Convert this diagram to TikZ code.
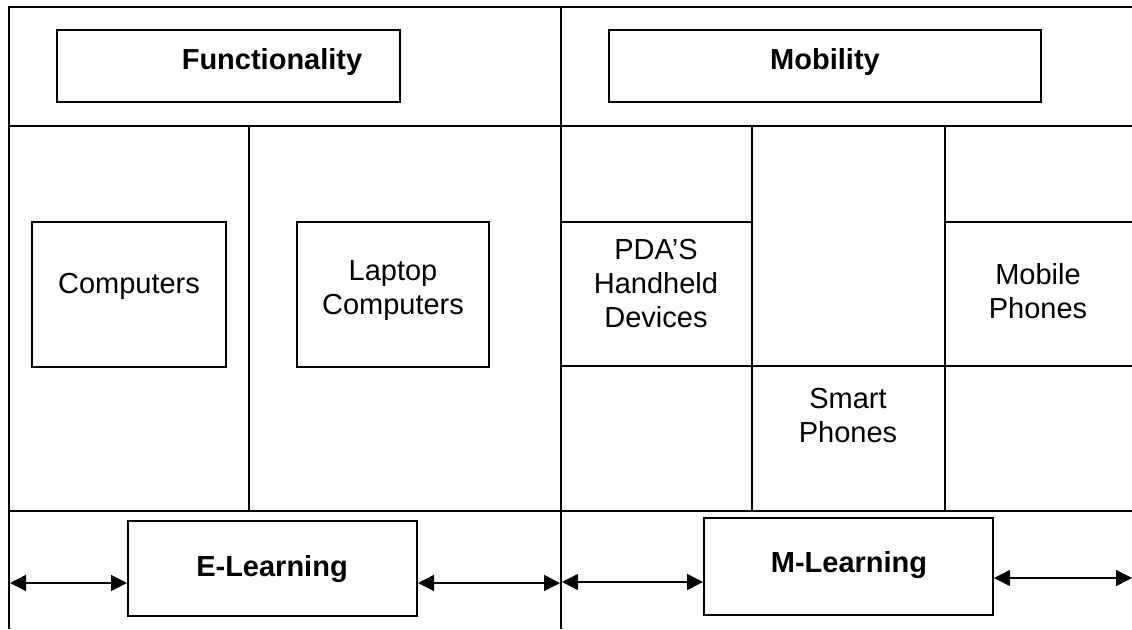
\documentclass[tikz,border=0pt]{standalone}
\usepackage{fontspec}
\setmainfont{Liberation Sans}
\usetikzlibrary{arrows.meta}
\tikzset{
  vline/.style={line width=2.2pt},
  hline/.style={line width=1.6pt},
  box/.style={draw, line width=2pt, rectangle, inner sep=0pt},
  lbl/.style={inner sep=0pt, align=center, font=\fontsize{29}{34}\selectfont},
  blbl/.style={lbl, font=\fontsize{29}{34}\selectfont\bfseries},
  dbl/.style={line width=1.5pt, {Triangle[length=16pt,width=16pt]}-{Triangle[length=16pt,width=16pt]}}
}
\begin{document}
\begin{tikzpicture}[x=1pt,y=-1pt]
\useasboundingbox (0,0) rectangle (1132,629);
% frame
\draw[hline] (8,7) -- (1132,7);
\draw[hline] (8,126) -- (1132,126);
\draw[hline] (8,511) -- (1132,511);
\draw[vline] (9,7) -- (9,629);
\draw[vline] (561,7) -- (561,629);
\draw[vline] (249,126) -- (249,511);
\draw[vline] (752,126) -- (752,511);
\draw[vline] (945,126) -- (945,511);
\draw[hline] (561,222) -- (752,222);
\draw[hline] (945,222) -- (1132,222);
\draw[hline] (561,366) -- (1132,366);
% boxes
\node[box, minimum width=343pt, minimum height=72pt] (func) at (228.5,66) {};
\node[box, minimum width=432pt, minimum height=72pt] (mob) at (825,66) {};
\node[box, minimum width=194pt, minimum height=145pt] (comp) at (129,294.5) {};
\node[box, minimum width=192pt, minimum height=145pt] (lap) at (393,294.5) {};
\node[box, minimum width=289pt, minimum height=95pt] (el) at (272.5,568.5) {};
\node[box, minimum width=289pt, minimum height=97pt] (ml) at (848.5,566.5) {};
% labels
\node[blbl] (funct) at (272,62) {Functionality};
\node[blbl] (mobt) at (825,62) {Mobility};
\node[lbl] (compt) at (129,286) {Computers};
\node[lbl] (lapt) at (393,291) {Laptop\\Computers};
\node[blbl] (elt) at (272,569) {E-Learning};
\node[blbl] (mlt) at (849,565) {M-Learning};
\node[lbl] (pda) at (656,284) {PDA’S\\Handheld\\Devices};
\node[lbl] (smart) at (848,416) {Smart\\Phones};
\node[lbl] (mobph) at (1038,291) {Mobile\\Phones};
% arrows
\coordinate (lft) at (10,583);
\coordinate (midE) at (560,583);
\coordinate (midM) at (562,582);
\coordinate (rgt) at (1132,578);
\draw[dbl] (lft) -- (lft -| el.west);
\draw[dbl] (midE -| el.east) -- (midE);
\draw[dbl] (midM) -- (midM -| ml.west);
\draw[dbl] (rgt -| ml.east) -- (rgt);
\end{tikzpicture}
\end{document}
